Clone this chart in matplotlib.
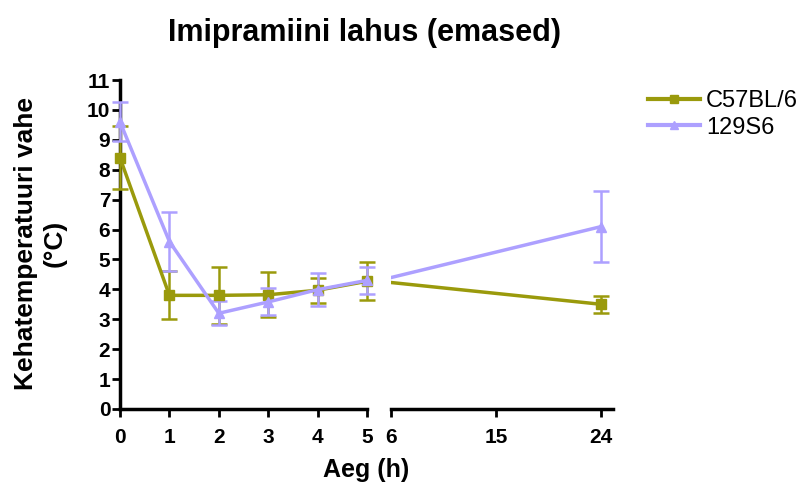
import matplotlib.pyplot as plt
from matplotlib.lines import Line2D

plt.rcParams['font.family'] = ['Liberation Sans', 'DejaVu Sans']

aeg = [0, 1, 2, 3, 4, 5, 24]
c57 = [8.4, 3.8, 3.8, 3.82, 3.97, 4.27, 3.5]
c57_err = [1.05, 0.8, 0.95, 0.75, 0.42, 0.64, 0.28]
s129 = [9.6, 5.6, 3.2, 3.58, 3.99, 4.3, 6.1]
s129_err = [0.65, 1.0, 0.4, 0.45, 0.55, 0.45, 1.2]

ticks_left = [0, 1, 2, 3, 4, 5]
ticks_right = [6, 15, 24]

olive = '#9a9a0c'
lilla = '#ada0ff'

fig = plt.figure(figsize=(8.1, 4.88), dpi=100)
ax1 = fig.add_axes([120 / 810, 79 / 488, 247 / 810, 329 / 488])
ax2 = fig.add_axes([391 / 810, 79 / 488, 222 / 810, 329 / 488])

seeriad = [(c57, c57_err, olive, 's', 'C57BL/6'),
           (s129, s129_err, lilla, '^', '129S6')]

kaepidemed = []
for y, e, col, mk, nimi in seeriad:
    # vasak osa 0..5
    ax1.errorbar(aeg[:6], y[:6], yerr=e[:6], color=col, marker=mk, ms=7,
                 lw=2.5, elinewidth=1.8, capsize=6, capthick=1.8,
                 clip_on=False, zorder=3)
    # parem osa: joon 5 -> 24, lõigatud telje piiridega
    ax2.plot(aeg[5:], y[5:], color=col, lw=2.5, zorder=3)
    ax2.errorbar(aeg[6:], y[6:], yerr=e[6:], color=col, marker=mk, ms=7,
                 lw=0, elinewidth=1.8, capsize=6, capthick=1.8,
                 clip_on=False, zorder=3)
    kaepidemed.append(Line2D([], [], color=col, marker=mk, ms=6, lw=3,
                             label=nimi))

ax1.set_xlim(0, 5)
ax2.set_xlim(6, 25)
for ax in (ax1, ax2):
    ax.set_ylim(0, 11)
    ax.spines['top'].set_visible(False)
    ax.spines['right'].set_visible(False)
    ax.spines['bottom'].set_linewidth(2.5)
    ax.tick_params(axis='both', direction='out', length=6, width=2,
                   labelsize=15)
    ax.tick_params(axis='x', pad=8)

ax1.spines['left'].set_linewidth(2.5)
ax1.set_yticks(range(0, 12))
ax1.set_xticks(ticks_left)
ax1.set_yticklabels([str(v) for v in range(0, 12)], fontweight='bold')
ax1.set_xticklabels([str(v) for v in ticks_left], fontweight='bold')
ax1.tick_params(axis='y', pad=1)

ax2.spines['left'].set_visible(False)
ax2.set_yticks([])
ax2.set_xticks(ticks_right)
ax2.set_xticklabels([str(v) for v in ticks_right], fontweight='bold')

fig.text(40 / 810, 1 - 243 / 488, 'Kehatemperatuuri vahe\n(°C)', fontsize=19,
         fontweight='bold', rotation=90, ha='center', va='center',
         multialignment='center', linespacing=1.25)
fig.text(366 / 810, 1 - 470 / 488, 'Aeg (h)', fontsize=18, fontweight='bold',
         ha='center', va='center')
fig.text(364 / 810, 1 - 33 / 488, 'Imipramiini lahus (emased)', fontsize=22,
         fontweight='bold', ha='center', va='center')

fig.legend(handles=kaepidemed, loc='upper left',
           bbox_to_anchor=(648 / 810, 1 - 90 / 488),
           frameon=False, fontsize=17, handlelength=2.2, handletextpad=0.25,
           borderaxespad=0, borderpad=0, labelspacing=0.2)

fig.savefig('out.png', dpi=100)
